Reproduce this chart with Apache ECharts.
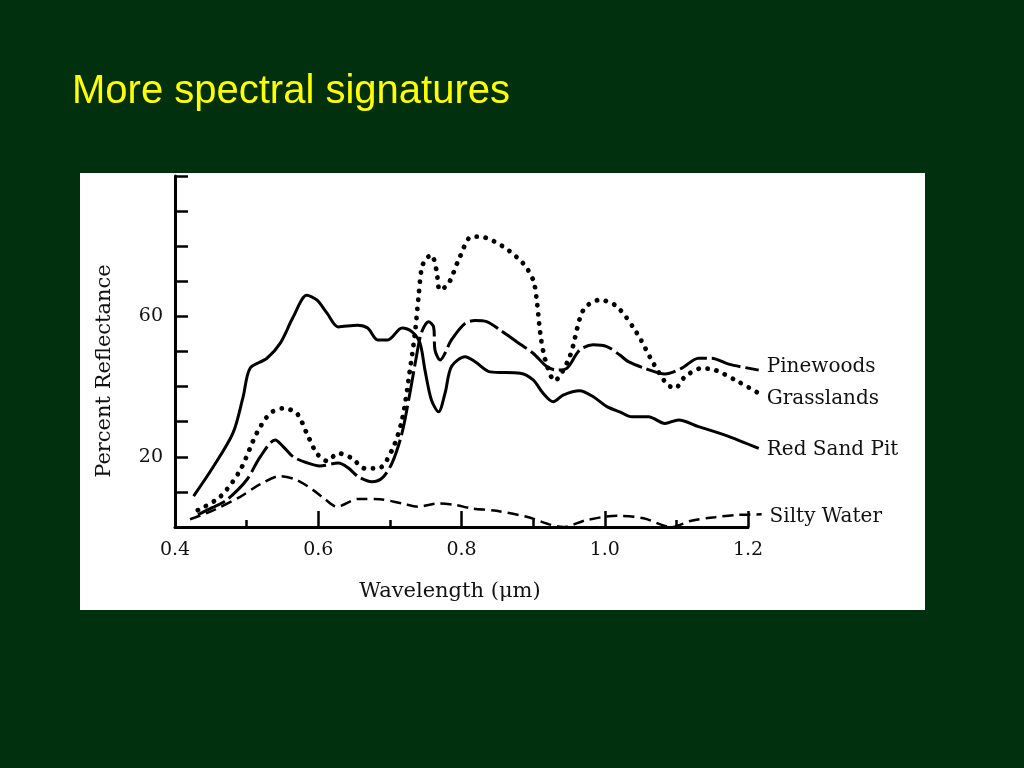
<!DOCTYPE html>
<html><head><meta charset="utf-8">
<script src="https://cdn.jsdelivr.net/npm/echarts@6/dist/echarts.min.js"></script>
<style>html,body{margin:0;padding:0;background:#01300e;}#c{width:1024px;height:768px;}</style>
</head><body><div id="c"></div>
<script>
// ---- data (wavelength in µm, percent reflectance) ----
const pinewoodsX = [0.432,0.452,0.472,0.500,0.519,0.540,0.551,0.565,0.584,0.602,0.628,0.642,0.656,0.675,0.689,0.703,0.717,0.728,0.737,0.744,0.754,0.761,0.763,0.770,0.786,0.805,0.819,0.835,0.854,0.877,0.900,0.919,0.933,0.947,0.965,0.984,1.003,1.021,1.033,1.056,1.084,1.107,1.131,1.149,1.173,1.215];
const pinewoodsY = [3.5,5.5,7.7,13.4,20,24.8,22.9,20,18.3,17.4,18.2,16.8,14.3,12.9,13.9,18.2,26.8,38.2,48.5,55.3,58.5,57,50.4,47.6,53.3,58,58.8,58.5,56.1,52.8,49.5,45.7,44.7,45.2,50.4,51.9,51.4,49,47.1,45.2,43.6,45.2,48.1,48.1,46.4,44.7];

const grasslandsX = [0.432,0.463,0.491,0.514,0.533,0.551,0.570,0.584,0.598,0.612,0.628,0.647,0.665,0.684,0.703,0.717,0.728,0.735,0.740,0.744,0.749,0.758,0.765,0.770,0.782,0.796,0.814,0.826,0.858,0.886,0.900,0.905,0.910,0.917,0.930,0.951,0.970,0.993,1.017,1.045,1.068,1.086,1.098,1.112,1.135,1.154,1.182,1.215];
const grasslandsY = [4.8,8.6,16.2,26.7,32.4,33.8,32.4,26.7,21,18.8,21,19.6,16.7,16.7,21.9,30.5,44.7,55.2,65.6,73.2,76.1,77.5,73.2,67.5,69.4,76.1,82.7,82.7,79.9,75.1,70.4,64.7,55.2,47.6,41.7,48.5,61.8,64.7,62.8,55.2,46.6,40.9,39.5,42.8,45.2,44.7,41.9,38.1];

const redSandX = [0.426,0.453,0.481,0.495,0.505,0.528,0.547,0.565,0.584,0.598,0.612,0.628,0.655,0.669,0.683,0.697,0.717,0.731,0.742,0.749,0.758,0.768,0.777,0.786,0.805,0.819,0.840,0.882,0.900,0.914,0.928,0.942,0.965,0.984,1.003,1.021,1.038,1.061,1.084,1.103,1.131,1.168,1.215];
const redSandY = [8.8,17,26.8,37,45.3,48,52.4,59.8,66,64.7,61,57,57.5,56.7,53.3,53.3,56.7,55.6,52.4,44.7,36.2,32.8,38.1,45.7,48.5,47.1,44.2,43.8,41.9,38.1,35.7,37.6,38.8,37.1,34.3,32.8,31.4,31.4,29.5,30.5,28.6,26.2,22.4];

const siltyWaterX = [0.421,0.454,0.491,0.519,0.547,0.570,0.593,0.609,0.626,0.656,0.686,0.717,0.740,0.768,0.791,0.814,0.849,0.891,0.942,0.975,1.017,1.054,1.093,1.121,1.154,1.182,1.219];
const siltyWaterY = [2.2,4.8,8.6,12.2,14.5,13.4,10.5,8,5.8,8,7.9,6.7,5.8,6.7,6.3,5.3,4.6,2.9,0,2,3.2,2.5,0,1.8,2.8,3.4,3.6];

const seriesNames = ['Pinewoods','Grasslands','Red Sand Pit','Silty Water'];
const xTickLabels = ['0.4','0.6','0.8','1.0','1.2'];
const yTickLabels = [20, 60];
const titleText = 'More spectral signatures';
const xAxisTitle = 'Wavelength (\u03bcm)';
const yAxisTitle = 'Percent Reflectance';

function zip(xs, ys){ return xs.map((x,i)=>[x, ys[i]]); }

const serif = 'DejaVu Serif';
const chart = echarts.init(document.getElementById('c'), null, {renderer:'canvas'});

// axis frame: 0.4..1.2 µm; curves run slightly past 1.2, so they live on a
// second, hidden grid with the identical scale extended to 1.22 µm.
const X_MIN = 0.4, X_MAX = 1.2, X_EXT = 1.22;
const gridLeft = 175, gridRight = 276;
const pxPerUnit = (1024 - gridLeft - gridRight) / (X_MAX - X_MIN);
const extRight = gridRight - (X_EXT - X_MAX) * pxPerUnit;

function lineSeries(name, xs, ys, style, labelOffset){
  return {
    type:'line', name, data: zip(xs, ys), symbol:'none', smooth:0.3,
    xAxisIndex:1, yAxisIndex:1,
    lineStyle: Object.assign({color:'#000'}, style),
    endLabel:{show:true, formatter:name, distance:8, offset:labelOffset,
      color:'#111', fontFamily:serif, fontSize:20},
    emphasis:{disabled:true}
  };
}

chart.setOption({
  backgroundColor:'#01300e',
  animation:false,
  title:{text:titleText, left:67, top:67,
    textStyle:{color:'#ffff00', fontFamily:'Liberation Sans', fontSize:40, fontWeight:'normal'}},
  graphic:[{type:'rect', z:-100, shape:{x:80,y:173,width:845,height:437}, style:{fill:'#ffffff'}}],
  grid:[
    {left:gridLeft, right:gridRight, top:176, bottom:241},
    {left:gridLeft, right:extRight, top:176, bottom:241}
  ],
  xAxis:[{type:'value', gridIndex:0, min:X_MIN, max:X_MAX, interval:0.2,
    axisLine:{lineStyle:{color:'#000', width:3}},
    axisTick:{inside:true, length:16, lineStyle:{color:'#000', width:2.5}},
    minorTick:{show:true, splitNumber:2, length:7, lineStyle:{color:'#000', width:2.5}},
    splitLine:{show:false},
    axisLabel:{margin:14, color:'#111', fontFamily:serif, fontSize:19,
      formatter:v=>{const s=v.toFixed(1); return xTickLabels.includes(s)?s:'';}},
    name:xAxisTitle, nameLocation:'middle', nameGap:54,
    nameTextStyle:{color:'#111', fontFamily:serif, fontSize:21, padding:[0,23,0,0]}
  },{type:'value', gridIndex:1, min:X_MIN, max:X_EXT, show:false}],
  yAxis:[{type:'value', gridIndex:0, min:0, max:100, interval:10,
    axisLine:{show:true, lineStyle:{color:'#000', width:3}},
    axisTick:{show:true, inside:true, length:13, lineStyle:{color:'#000', width:2.5}},
    splitLine:{show:false},
    axisLabel:{margin:12, color:'#111', fontFamily:serif, fontSize:19,
      formatter:v=>yTickLabels.includes(v)?String(v):''},
    name:yAxisTitle, nameLocation:'middle', nameGap:60, nameRotate:90,
    nameTextStyle:{color:'#111', fontFamily:serif, fontSize:21, padding:[0,39,0,0]}
  },{type:'value', gridIndex:1, min:0, max:100, show:false}],
  series:[
    lineSeries(seriesNames[0], pinewoodsX, pinewoodsY, {width:3, type:[30,5]}, [0,-3]),
    lineSeries(seriesNames[1], grasslandsX, grasslandsY, {width:4.8, type:[0.1,9], cap:'round'}, [0,6]),
    lineSeries(seriesNames[2], redSandX, redSandY, {width:3}, [0,1]),
    lineSeries(seriesNames[3], siltyWaterX, siltyWaterY, {width:2.5, type:[11,6]}, [0,2])
  ]
});
</script>
</body></html>
